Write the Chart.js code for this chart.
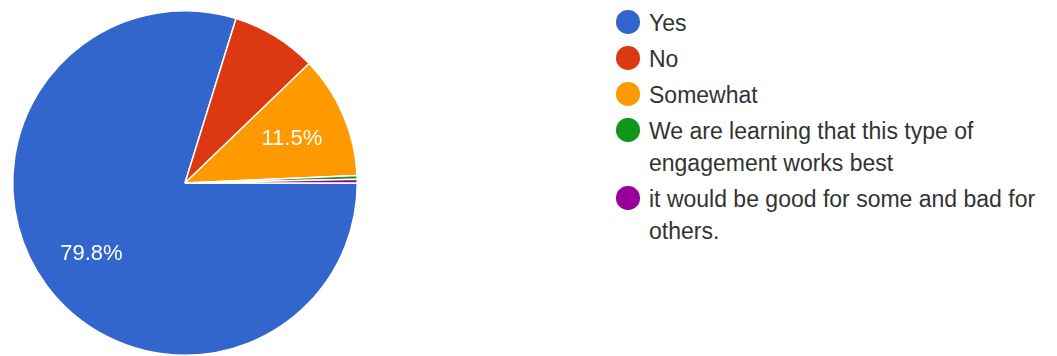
<!DOCTYPE html>
<html>
<head>
<meta charset="utf-8">
<script src="https://cdn.jsdelivr.net/npm/chart.js@4.4.1/dist/chart.umd.min.js"></script>
<style>
  html, body { margin: 0; padding: 0; background: #fff; }
  body { width: 1057px; height: 356px; position: relative; overflow: hidden;
         font-family: "Liberation Sans", Arial, sans-serif; }
  #pieWrap { position: absolute; left: 0; top: 0; width: 370px; height: 356px; }
  #legend { position: absolute; left: 616px; top: 7px; width: 440px; }
  #legend ul { list-style: none; margin: 0; padding: 0; }
  #legend li { display: flex; align-items: flex-start; margin: 0 0 4px 0; }
  #legend .dot { flex: 0 0 auto; width: 23.5px; height: 23.5px; border-radius: 50%;
                 margin-top: 3px; margin-right: 9.5px; }
  #legend .txt { width: 400px; font-size: 23px; line-height: 32px; color: #333; }
</style>
</head>
<body>
<div id="pieWrap"><canvas id="pie" width="370" height="356"></canvas></div>
<div id="legend"></div>
<script>
// Answer options and response counts
const answers = [
  'Yes',
  'No',
  'Somewhat',
  'We are learning that this type of engagement works best',
  'it would be good for some and bad for others.'
];
const responses = [229, 23, 33, 1, 1];
const sliceColors = ['#3366cc', '#dc3912', '#ff9900', '#109618', '#990099'];

// Only slices at least this share (%) get a percentage label
const labelThreshold = 10;

// Writes percentage labels inside the larger slices
const sliceLabels = {
  id: 'sliceLabels',
  afterDatasetsDraw(chart) {
    const ctx = chart.ctx;
    const meta = chart.getDatasetMeta(0);
    const values = chart.data.datasets[0].data;
    const total = values.reduce((a, b) => a + b, 0);
    const fontSize = 22;
    ctx.save();
    ctx.font = fontSize + 'px "Liberation Sans", Arial, sans-serif';
    ctx.fillStyle = '#ffffff';
    ctx.textAlign = 'center';
    ctx.textBaseline = 'alphabetic';
    meta.data.forEach((arc, i) => {
      const pct = values[i] / total * 100;
      if (pct < labelThreshold) return;
      const p = arc.getProps(['x', 'y', 'startAngle', 'endAngle', 'outerRadius'], true);
      const mid = (p.startAngle + p.endAngle) / 2;
      const r = p.outerRadius * 0.675;
      // centre the digits' height on the anchor point
      const cx = p.x + Math.cos(mid) * r;
      const cy = p.y + Math.sin(mid) * r + fontSize * 0.358;
      ctx.fillText(pct.toFixed(1) + '%', cx, cy);
    });
    ctx.restore();
  }
};

// Builds the wrapped legend list from the chart's own legend items
const htmlLegend = {
  id: 'htmlLegend',
  afterUpdate(chart) {
    const box = document.getElementById('legend');
    box.innerHTML = '';
    const ul = document.createElement('ul');
    const items = chart.options.plugins.legend.labels.generateLabels(chart);
    items.forEach(item => {
      const li = document.createElement('li');
      const dot = document.createElement('span');
      dot.className = 'dot';
      dot.style.background = item.fillStyle;
      const txt = document.createElement('span');
      txt.className = 'txt';
      txt.textContent = item.text;
      li.appendChild(dot);
      li.appendChild(txt);
      ul.appendChild(li);
    });
    box.appendChild(ul);
  }
};

new Chart(document.getElementById('pie'), {
  type: 'pie',
  data: {
    labels: answers,
    datasets: [{
      data: responses,
      backgroundColor: sliceColors,
      borderColor: '#ffffff',
      borderWidth: 1.5
    }]
  },
  options: {
    responsive: false,
    animation: false,
    rotation: 90,
    layout: { padding: { top: 10, left: 12, right: 12, bottom: 0 } },
    plugins: {
      legend: { display: false },
      tooltip: { enabled: false }
    }
  },
  plugins: [sliceLabels, htmlLegend]
});
</script>
</body>
</html>
